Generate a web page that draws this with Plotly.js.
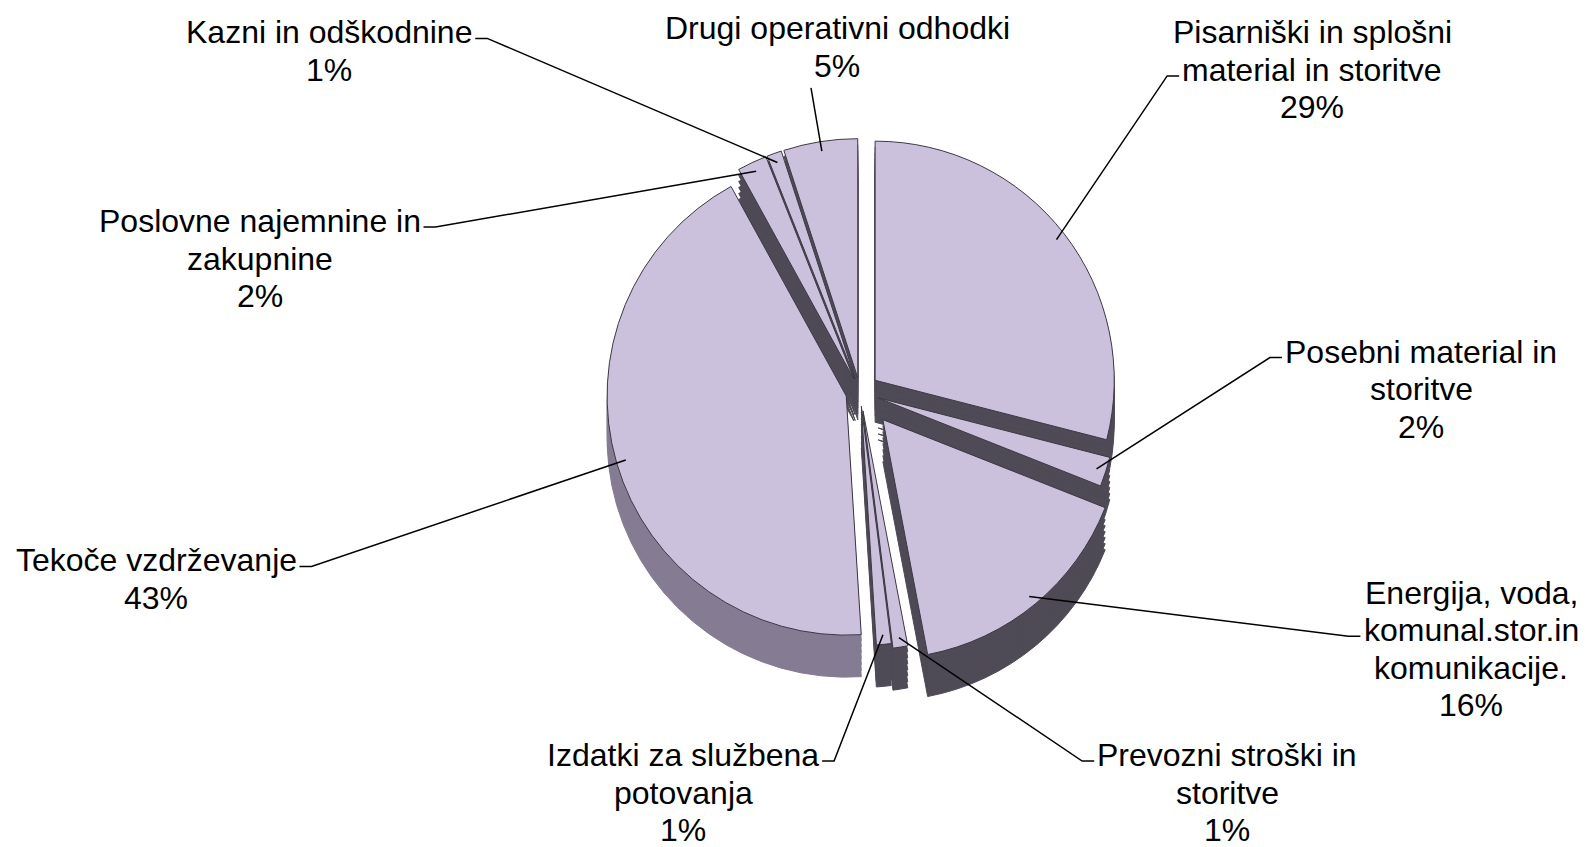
<!DOCTYPE html>
<html>
<head>
<meta charset="utf-8">
<script src="https://cdn.plot.ly/plotly-3.0.1.min.js"></script>
<style>html,body{margin:0;padding:0;background:#fff;}#chart{width:1589px;height:847px;}</style>
</head>
<body>
<div id="chart"></div>
<script>
// ---- data ----
const categories = [
  "Pisarniški in splošni<br>material in storitve",
  "Posebni material in<br>storitve",
  "Energija, voda,<br>komunal.stor.in<br>komunikacije.",
  "Prevozni stroški in<br>storitve",
  "Izdatki za službena<br>potovanja",
  "Tekoče vzdrževanje",
  "Poslovne najemnine in<br>zakupnine",
  "Kazni in odškodnine",
  "Drugi operativni odhodki"
];
const shares = [29, 2, 16, 1, 1, 43, 2, 1, 5];

// ---- styling / layout (not data) ----
const W = 1589, H = 847;
const FONT = 'Liberation Sans, Arial, sans-serif';
const FS = 32, LS = 37.5;
const pulls = [0.08, 0.08, 0.15, 0.08, 0.06, 0.06, 0.06, 0.06, 0.06];
const topColor = '#CCC1DC';
const wallColors = ['#4e4a56', '#4e4a56', '#4e4a56', '#4e4a56', '#4e4a56', '#857c93', '#4e4a56', '#4e4a56', '#4e4a56'];
// label placement: centre x and first-line y (px), leader attach: line index & side
const labelPos = [
  {x: 1312, y: 32.4, line: 1, side: 'left'},
  {x: 1421, y: 351.6, line: 0, side: 'left'},
  {x: 1471, y: 592.8, line: 1, side: 'left'},
  {x: 1227, y: 755, line: 0, side: 'left'},
  {x: 683, y: 755, line: 0, side: 'right'},
  {x: 156, y: 560.4, line: 0, side: 'right'},
  {x: 259.5, y: 221, line: 0, side: 'right'},
  {x: 329, y: 32.4, line: 0, side: 'right'},
  {x: 837, y: 28.4, line: -1, side: 'bottom', bx: 811}
];

const cxPx = 860, cyPx = 392, half = 275, depth = 42, layers = 7;
function dom(dy) {
  const c = 1 - (cyPx + dy) / H;
  return {x: [(cxPx - half) / W, (cxPx + half) / W], y: [c - half / H, c + half / H]};
}

const traces = [];
for (let k = layers; k >= 1; k--) {
  const dy = depth * k / layers;
  traces.push({
    type: 'pie', labels: categories, values: shares, pull: pulls, sort: false,
    direction: 'clockwise', rotation: 0, textinfo: 'none', hoverinfo: 'skip',
    marker: {colors: wallColors, line: {color: wallColors, width: 1}},
    domain: dom(dy), automargin: false, showlegend: false
  });
}
traces.push({
  type: 'pie', labels: categories, values: shares, pull: pulls, sort: false,
  direction: 'clockwise', rotation: 0, textinfo: 'none', hoverinfo: 'label+value',
  marker: {colors: Array(shares.length).fill(topColor), line: {color: '#3c3844', width: 1}},
  domain: dom(0), automargin: false, showlegend: false
});

// text measurement for leader attachment
const ctx = document.createElement('canvas').getContext('2d');
ctx.font = FS + 'px "Liberation Sans"';

const annotations = [];
categories.forEach(function (cat, i) {
  const lines = (cat + '<br>' + shares[i] + '%').split('<br>');
  lines.forEach(function (t, j) {
    annotations.push({
      xref: 'paper', yref: 'paper', x: labelPos[i].x / W, y: 1 - (labelPos[i].y + j * LS) / H,
      text: t, showarrow: false, xanchor: 'center', yanchor: 'middle',
      font: {family: FONT, size: FS, color: '#000'}
    });
  });
});

const layout = {
  width: W, height: H,
  margin: {l: 0, r: 0, t: 0, b: 0},
  paper_bgcolor: '#ffffff', plot_bgcolor: '#ffffff',
  font: {family: FONT, size: FS, color: '#000'},
  showlegend: false,
  annotations: annotations
};

Plotly.newPlot('chart', traces, layout, {displayModeBar: false, staticPlot: true}).then(function (gd) {
  const cd = gd.calcdata[traces.length - 1];
  const cd0 = cd[0];
  const shapes = [];
  let cum = 0;
  const total = shares.reduce(function (a, b) { return a + b; }, 0);
  categories.forEach(function (cat, i) {
    const pt = cd[i];
    let dx, dy;
    if (pt && pt.pxmid) { dx = pt.pxmid[0]; dy = pt.pxmid[1]; }
    else {
      const r = cd0.r || 250;
      const a = 2 * Math.PI * (cum + shares[i] / 2) / total;
      dx = r * Math.sin(a); dy = -r * Math.cos(a);
    }
    cum += shares[i];
    const f = pulls[i] + 0.96;
    const tx = (cd0.cx !== undefined ? cd0.cx : cxPx) + dx * f;
    const ty = (cd0.cy !== undefined ? cd0.cy : cyPx) + dy * f;
    const lp = labelPos[i];
    const lines = (cat + '<br>' + shares[i] + '%').split('<br>');
    let sx, sy, kx;
    if (lp.side === 'bottom') {
      sx = lp.bx; sy = lp.y + (lines.length - 1) * LS + 22; kx = sx;
    } else {
      const w = ctx.measureText(lines[lp.line]).width;
      sy = lp.y + lp.line * LS + 6;
      if (lp.side === 'left') { sx = lp.x - w / 2 - 3; kx = sx - 12; }
      else { sx = lp.x + w / 2 + 3; kx = sx + 12; }
    }
    const P = function (x, y) { return (x / W).toFixed(5) + ',' + (1 - y / H).toFixed(5); };
    shapes.push({
      type: 'path', xref: 'paper', yref: 'paper',
      path: 'M' + P(sx, sy) + ' L' + P(kx, sy) + ' L' + P(tx, ty),
      line: {color: '#000', width: 1.5}
    });
  });
  return Plotly.relayout(gd, {shapes: shapes});
});
</script>
</body>
</html>
